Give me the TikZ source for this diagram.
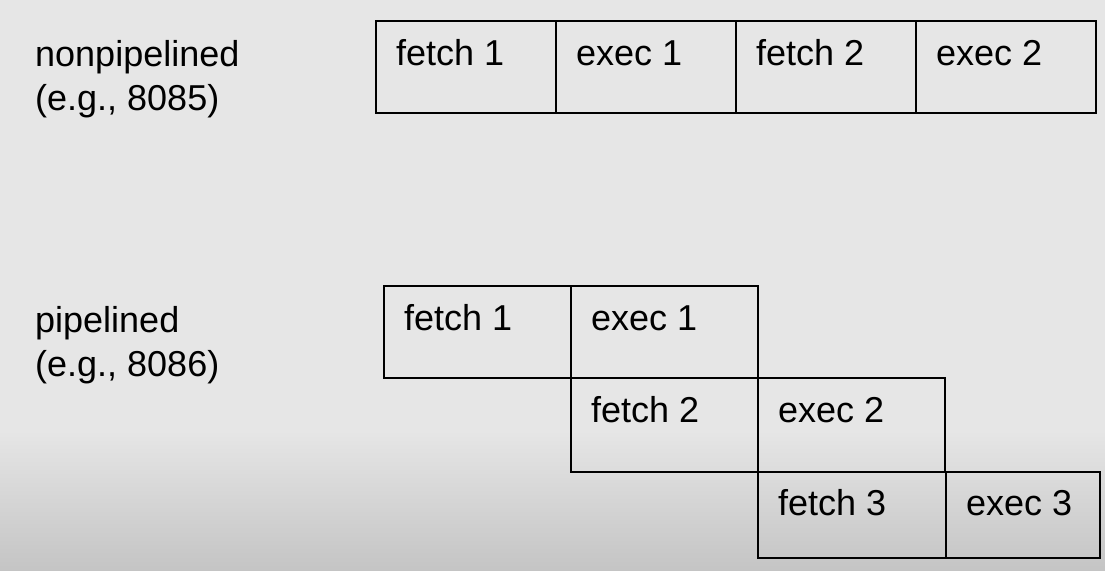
\documentclass[tikz,border=0pt]{standalone}
\usepackage{fontspec}
\setmainfont{Liberation Sans}
\usetikzlibrary{positioning}
\definecolor{paper}{HTML}{E6E6E6}
\definecolor{shade}{HTML}{B6B6B6}

\begin{document}
\begin{tikzpicture}[x=1pt,y=-1pt,
		cell/.style={rectangle,draw=black,line width=2.2pt,inner sep=0pt,outer sep=0pt,minimum width=180pt,minimum height=92pt},
		tag/.style={anchor=base west,inner sep=0pt,xshift=20pt,yshift=-44pt},
		caption/.style={anchor=base west,inner sep=0pt,align=left}]
		\fontsize{36}{44}\selectfont
		\useasboundingbox (0,0) rectangle (1105,570);
		% background and the darker band at the bottom
		\fill[paper] (0,0) rectangle (1105,570);
		\shade[top color=paper,bottom color=shade] (0,430) rectangle (1105,630);
		
		% nonpipelined
		\node[caption] (lnon) at (35,110) {nonpipelined\\(e.g., 8085)};
		\node[cell,anchor=north west,label={[tag]north west:fetch 1}] (nf1) at (376,21) {};
		\node[cell,label={[tag]north west:exec 1}]  (ne1) [right=0pt of nf1] {};
		\node[cell,label={[tag]north west:fetch 2}] (nf2) [right=0pt of ne1] {};
		\node[cell,label={[tag]north west:exec 2}]  (ne2) [right=0pt of nf2] {};
		
		% pipelined
		\node[caption] (lpip) at (35,376) {pipelined\\(e.g., 8086)};
		\node[cell,anchor=north west,minimum width=187pt,label={[tag]north west:fetch 1}] (pf1) at (384,286) {};
		\node[cell,minimum width=187pt,label={[tag]north west:exec 1}] (pe1) [right=0pt of pf1] {};
		\node[cell,minimum width=187pt,minimum height=94pt,label={[tag]north west:fetch 2}] (pf2) [below right=0pt and 0pt of pf1] {};
		\node[cell,minimum width=187pt,minimum height=94pt,label={[tag]north west:exec 2}] (pe2) [right=0pt of pf2] {};
		\node[cell,minimum width=188pt,minimum height=86pt,label={[tag,yshift=1pt]north west:fetch 3}] (pf3) [below right=0pt and 0pt of pf2] {};
		\node[cell,minimum width=154pt,minimum height=86pt,label={[tag,yshift=1pt]north west:exec 3}] (pe3) [right=0pt of pf3] {};
		\end{tikzpicture}
\end{document}
